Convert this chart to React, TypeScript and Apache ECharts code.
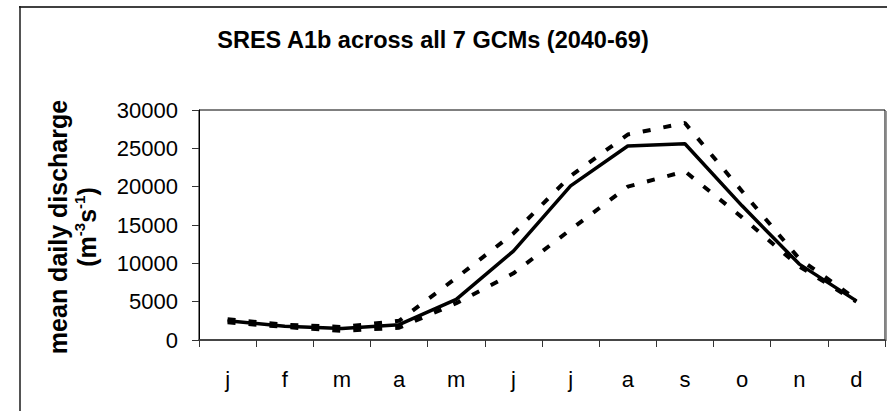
import React, { useEffect, useRef } from "react";
import * as echarts from "echarts";

const months = ["j", "f", "m", "a", "m", "j", "j", "a", "s", "o", "n", "d"];
const meanFlow = [2500, 1800, 1500, 2000, 5300, 11600, 20100, 25300, 25600, 17500, 9900, 5100];
const upperFlow = [2700, 2000, 1700, 2500, 8100, 13900, 21400, 26800, 28300, 19400, 10600, 5300];
const lowerFlow = [2300, 1700, 1200, 1600, 4800, 8700, 14400, 20000, 22000, 16000, 9600, 5000];
const yMin = 0;
const yMax = 30000;
const yStep = 5000;

const titleText = "SRES A1b across all 7 GCMs (2040-69)";
const FONT = "Liberation Sans, Arial, sans-serif";

export default function App() {
  const ref = useRef<HTMLDivElement>(null);
  useEffect(() => {
    if (!ref.current) return;
    const chart = echarts.init(ref.current, null, { renderer: "svg" });
    const dashed = [8, 13];
    chart.setOption({
      animation: false,
      backgroundColor: "#ffffff",
      grid: {
        left: 199,
        top: 110,
        right: 2,
        bottom: 71,
        show: true,
        borderColor: "#000",
        borderWidth: 1,
        backgroundColor: "transparent",
      },
      xAxis: {
        type: "category",
        data: months,
        boundaryGap: true,
        axisLine: { show: true, lineStyle: { color: "#333", width: 1.5 } },
        axisTick: { show: true, inside: false, length: 7, interval: 0, lineStyle: { color: "#333", width: 1 } },
        axisLabel: {
          interval: 0,
          margin: 28,
          color: "#000",
          fontSize: 22,
          fontFamily: FONT,
        },
        splitLine: { show: false },
      },
      yAxis: {
        type: "value",
        min: yMin,
        max: yMax,
        interval: yStep,
        axisLine: { show: true, lineStyle: { color: "#000", width: 1 } },
        axisTick: { show: true, inside: false, length: 7, lineStyle: { color: "#333", width: 1 } },
        axisLabel: {
          margin: 21,
          color: "#000",
          fontSize: 22,
          fontFamily: FONT,
          formatter: (v: number) => String(v),
        },
        splitLine: { show: false },
      },
      series: [
        {
          name: "mean",
          type: "line",
          data: meanFlow,
          symbol: "none",
          lineStyle: { color: "#000", width: 3.5, type: "solid" },
          z: 3,
        },
        {
          name: "upper",
          type: "line",
          data: upperFlow,
          symbol: "none",
          lineStyle: { color: "#000", width: 4, type: dashed, cap: "butt" },
          z: 4,
        },
        {
          name: "lower",
          type: "line",
          data: lowerFlow,
          symbol: "none",
          lineStyle: { color: "#000", width: 4, type: dashed, cap: "butt" },
          z: 4,
        },
      ],
      graphic: [
        {
          type: "line",
          shape: { x1: 19, y1: 7, x2: 887, y2: 7 },
          style: { stroke: "#404040", lineWidth: 2 },
          silent: true,
        },
        {
          type: "line",
          shape: { x1: 20, y1: 6, x2: 20, y2: 411 },
          style: { stroke: "#1a1a1a", lineWidth: 1.5 },
          silent: true,
        },
        {
          type: "line",
          shape: { x1: 886.5, y1: 111, x2: 886.5, y2: 341 },
          style: { stroke: "#999", lineWidth: 1.5 },
          silent: true,
        },
        {
          type: "text",
          x: 433,
          y: 40,
          style: {
            text: titleText,
            align: "center",
            verticalAlign: "middle",
            fontSize: 23.5,
            fontWeight: "bold",
            fontFamily: FONT,
            fill: "#000",
          },
        },
        {
          type: "text",
          x: 72,
          y: 227,
          rotation: Math.PI / 2,
          style: {
            text: "{b|mean daily discharge}\n{b|(m}{sup|-3}{b|s}{sup|-1}{b|)}",
            align: "center",
            verticalAlign: "middle",
            fill: "#000",
            rich: {
              b: {
                fontSize: 25,
                fontWeight: "bold",
                fontFamily: FONT,
                lineHeight: 29,
                fill: "#000",
              },
              sup: {
                fontSize: 15,
                fontWeight: "bold",
                fontFamily: FONT,
                lineHeight: 15,
                verticalAlign: "top",
                fill: "#000",
              },
            },
          },
        },
      ],
    });
    return () => chart.dispose();
  }, []);
  return (
    <div
      ref={ref}
      style={{ position: "fixed", left: 0, top: 0, width: 887, height: 411, background: "#fff" }}
    />
  );
}
